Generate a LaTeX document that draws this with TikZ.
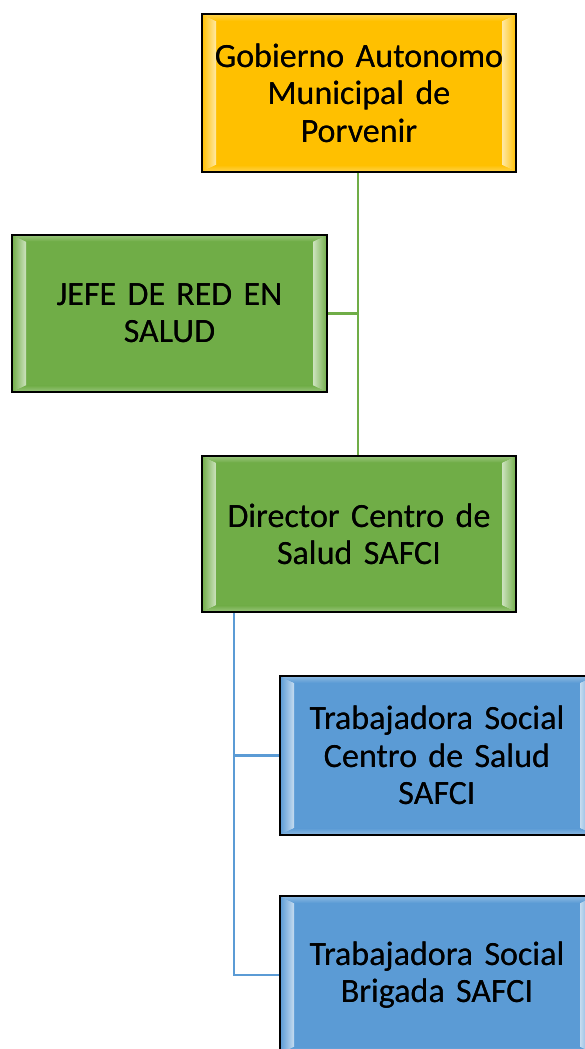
\documentclass[tikz,border=0pt]{standalone}
\usepackage{fontspec}
\setmainfont{Carlito}
\usetikzlibrary{calc}
\definecolor{orgC}{HTML}{FFC000}
\definecolor{grnC}{HTML}{70AD47}
\definecolor{bluC}{HTML}{5B9BD5}
\pgfdeclarelayer{bg}
\pgfsetlayers{bg,main}
\tikzset{
  box/.style={outer sep=0pt, inner sep=0pt, minimum width=235.5pt, minimum height=118pt,
    align=center, text width=228pt, font=\fontsize{25.5}{28}\selectfont},
  border/.style={draw=black, line width=1.7pt},
  glink/.style={draw=grnC, line width=2pt},
  blink/.style={draw=bluC, line width=2pt},
}
\newcommand\bevelbox[2]{%
  \shade[left color=#2, right color=#2!35!white]
    (#1.north west) -- ([xshift=10.5pt,yshift=-5pt]#1.north west) --
    ([xshift=10.5pt,yshift=5pt]#1.south west) -- (#1.south west) -- cycle;
  \shade[left color=#2!35!white, right color=#2]
    ([xshift=-10.5pt,yshift=-5pt]#1.north east) -- (#1.north east) --
    (#1.south east) -- ([xshift=-10.5pt,yshift=5pt]#1.south east) -- cycle;
  \shade[top color=#2!70!white, bottom color=#2]
    (#1.north west) -- (#1.north east) -- ([xshift=-10.5pt,yshift=-5pt]#1.north east) --
    ([xshift=10.5pt,yshift=-5pt]#1.north west) -- cycle;
  \shade[top color=#2, bottom color=#2!70!white]
    ([xshift=10.5pt,yshift=5pt]#1.south west) -- ([xshift=-10.5pt,yshift=5pt]#1.south east) --
    (#1.south east) -- (#1.south west) -- cycle;
  \draw[border] (#1.north west) rectangle (#1.south east);
}
\begin{document}
\begin{tikzpicture}[x=0.75pt, y=-0.75pt]
  \useasboundingbox (0,0) rectangle (585,1049);
  \clip (0,0) rectangle (585,1049);
  \node[box, fill=orgC] (top) at (359,93) {Gobierno Autonomo\\Municipal de\\Porvenir};
  \node[box, fill=grnC, minimum width=236.25pt] (jefe) at (169.5,313.5) {JEFE DE RED EN\\SALUD};
  \node[box, fill=grnC, minimum height=117pt] (dir) at (359,534) {Director Centro de\\Salud SAFCI};
  \node[box, fill=bluC, minimum height=119pt] (t1) at (437,755.5) {Trabajadora Social\\Centro de Salud\\SAFCI};
  \node[box, fill=bluC] (t2) at (437,975) {Trabajadora Social\\Brigada SAFCI};
  \bevelbox{top}{orgC}
  \bevelbox{jefe}{grnC}
  \bevelbox{dir}{grnC}
  \bevelbox{t1}{bluC}
  \bevelbox{t2}{bluC}
  \node[box] at (top) {Gobierno Autonomo\\Municipal de\\Porvenir};
  \node[box] at (jefe) {JEFE DE RED EN\\SALUD};
  \node[box] at (dir) {Director Centro de\\Salud SAFCI};
  \node[box] at (t1) {Trabajadora Social\\Centro de Salud\\SAFCI};
  \node[box] at (t2) {Trabajadora Social\\Brigada SAFCI};
  \begin{pgfonlayer}{bg}
    \coordinate (gx) at ([xshift=-0.75pt]top.south);
    \coordinate (gy) at ([xshift=-0.75pt]dir.north);
    \draw[glink] (gx) -- (gy);
    \draw[glink] (jefe.east) -- (jefe.east -| gx);
    \coordinate (bx) at ($(dir.south west)+(32,0)$);
    \draw[blink] (bx) |- (t2.west);
    \draw[blink] (bx |- t1.west) -- (t1.west);
  \end{pgfonlayer}
\end{tikzpicture}
\end{document}
